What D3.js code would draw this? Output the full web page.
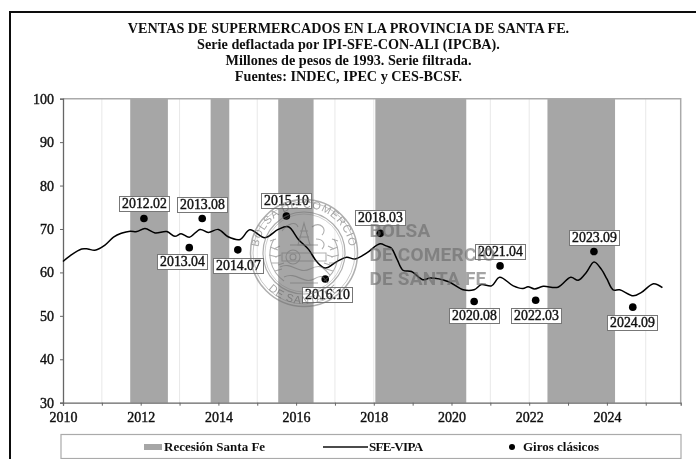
<!DOCTYPE html>
<html><head><meta charset="utf-8">
<script src="https://cdnjs.cloudflare.com/ajax/libs/d3/7.8.5/d3.min.js"></script>
<style>html,body{margin:0;padding:0;background:#fff}svg{display:block}
text{font-family:"Liberation Serif",serif}</style></head><body>
<svg id="c" width="696" height="459"></svg>
<script>
const titleLines = ["VENTAS DE SUPERMERCADOS EN LA PROVINCIA DE SANTA FE.",
  "Serie deflactada por IPI-SFE-CON-ALI (IPCBA).",
  "Millones de pesos de 1993. Serie filtrada.",
  "Fuentes: INDEC, IPEC y CES-BCSF."];
const recessionStart = [2011.73, 2013.80, 2015.54, 2018.04, 2022.47];
const recessionEnd   = [2012.70, 2014.28, 2016.45, 2020.38, 2024.21];
const lineYears = [2010,2010.18,2010.48,2010.64,2010.82,2011.08,2011.3,2011.5,2011.73,2011.9,2012.11,2012.37,2012.67,2012.88,2013.04,2013.25,2013.53,2013.74,2014,2014.25,2014.56,2014.81,2015.2,2015.54,2015.8,2016.06,2016.32,2016.53,2016.75,2017.05,2017.3,2017.52,2017.82,2018.16,2018.32,2018.45,2018.6,2018.75,2018.97,2019.27,2019.45,2019.91,2020.3,2020.58,2020.77,2021.03,2021.24,2021.59,2021.84,2021.97,2022.14,2022.36,2022.74,2023.07,2023.26,2023.47,2023.67,2023.86,2024,2024.16,2024.33,2024.68,2024.89,2025.2,2025.43];
const lineValues = [62.5,63.8,65.4,65.4,65.1,66.3,68.1,69,69.5,69.4,70.1,69.1,69.4,68.3,68.9,68.1,69.9,69.2,69.9,68.2,67.6,69.8,68,69.9,70.5,67.6,65.3,62.5,61,62.5,63.5,63.1,64.5,66.6,66.1,65.6,63,60.5,60.2,58.3,58.7,57.9,56,56,57.2,56.9,58.9,56.9,56.3,56.7,56.2,56.8,56.6,58.9,58.2,60,62.4,60.7,58.5,56,56,54.6,55.4,57.4,56.5];
const giroLabels = ["2012.02","2013.04","2013.08","2014.07","2015.10","2016.10","2018.03","2020.08","2021.04","2022.03","2023.09","2024.09"];
const giroValues = [72.4,65.7,72.4,65.2,73,58.5,69,53.3,61.5,53.6,64.8,52];
const yTicks = [30,40,50,60,70,80,90,100];
const legendNames = ["Recesión Santa Fe","SFE-VIPA","Giros clásicos"];
const watermarkLines = ["BOLSA","DE COMERCIO","DE SANTA FE"];

// label box top-left corners (layout only)
const labelBoxes = {"2012.02":[119,196],"2013.04":[157,254],"2013.08":[177,197],"2014.07":[213,258],"2015.10":[261,193],"2016.10":[302,287],"2018.03":[355,210],"2020.08":[449,308],"2021.04":[475,244],"2022.03":[511,308],"2023.09":[569,230],"2024.09":[607,315]};

const root = d3.select("#c");
root.append("defs").append("filter").attr("id","soft").attr("x",0).attr("y",0).attr("width",1).attr("height",1)
  .append("feGaussianBlur").attr("stdDeviation",0.4);
const svg = root.append("g").attr("filter","url(#soft)");
svg.append("rect").attr("width",696).attr("height",459).attr("fill","#fff");
const W = 696, H = 459;
const m = {l:63, r:680.7, t:98.7, b:402.7};
const x = d3.scaleLinear().domain([2010, 2025.9]).range([m.l, m.r]);
const y = d3.scaleLinear().domain([30, 100]).range([m.b, m.t]);
const SERIF = '"Liberation Serif",serif';
const TXT = "#111";

// frame
svg.append("path").attr("d",`M10,${H}V12H${W}`).attr("fill","none").attr("stroke","#111").attr("stroke-width",2);

// title
svg.append("g").selectAll("text").data(titleLines).join("text")
  .attr("x",348.5).attr("y",(d,i)=>33+i*16.1).attr("text-anchor","middle")
  .attr("font-size",14.2).attr("font-weight","bold").attr("fill",TXT).text(d=>d);

// plot: recession bands
svg.append("g").selectAll("rect").data(recessionStart).join("rect")
  .attr("x",d=>x(d)).attr("width",(d,i)=>x(recessionEnd[i])-x(d))
  .attr("y",m.t).attr("height",m.b-m.t).attr("fill","#a6a6a6");

// grid at years
const years = d3.range(2010,2026);
svg.append("g").selectAll("line").data(years.slice(1)).join("line")
  .attr("x1",d=>x(d)).attr("x2",d=>x(d)).attr("y1",m.t).attr("y2",m.b)
  .attr("stroke","#e8e8e8").attr("stroke-width",1)
  .attr("display",d=>recessionStart.some((s,i)=>d>s&&d<recessionEnd[i])?"none":null);

// plot frame top/right
svg.append("path").attr("d",`M${m.l},${m.t}H${m.r}V${m.b}`).attr("fill","none").attr("stroke","#aaa").attr("stroke-width",1.5);

// axes
const xAxis = d3.axisBottom(x).tickValues(years).tickSize(3).tickPadding(6)
  .tickFormat(d=>d%2===0?String(d):"");
const gx = svg.append("g").attr("transform",`translate(0,${m.b})`).call(xAxis);
const yAxis = d3.axisLeft(y).tickValues(yTicks).tickSize(3).tickPadding(6).tickFormat(d3.format("d"));
const gy = svg.append("g").attr("transform",`translate(${m.l},0)`).call(yAxis);
[gx,gy].forEach(g=>{
  g.selectAll(".domain").attr("stroke","#666").attr("stroke-width",1.3);
  g.selectAll(".tick line").attr("stroke","#666").attr("stroke-width",1);
  g.selectAll("text").attr("font-family",SERIF).attr("font-size",14).attr("fill",TXT)
    .attr("stroke",TXT).attr("stroke-width",0.4);
});

// series line
const line = d3.line().x(d=>x(d[0])).y(d=>y(d[1])).curve(d3.curveCatmullRom.alpha(0.5));
svg.append("path").datum(lineYears.map((d,i)=>[d,lineValues[i]]))
  .attr("d",line).attr("fill","none").attr("stroke","#000").attr("stroke-width",1.5);

// points
const giroYear = s => { const [a,b]=s.split("."); return +a+(+b-1)/12; };
svg.append("g").selectAll("circle").data(giroLabels).join("circle")
  .attr("cx",d=>x(giroYear(d))).attr("cy",(d,i)=>y(giroValues[i])).attr("r",3.8).attr("fill","#000");

// data labels
const lg = svg.append("g").selectAll("g").data(giroLabels).join("g")
  .attr("transform",d=>`translate(${labelBoxes[d][0]},${labelBoxes[d][1]})`);
lg.append("rect").attr("x",0.5).attr("y",0.5).attr("width",50).attr("height",15)
  .attr("fill","#fff").attr("stroke","#777").attr("stroke-width",1);
lg.append("text").attr("x",25.5).attr("y",12).attr("text-anchor","middle")
  .attr("font-size",13.8).attr("fill",TXT).attr("stroke",TXT).attr("stroke-width",0.4).text(d=>d);

// seal watermark
const seal = svg.append("g").attr("transform","translate(304,253)").attr("fill","none").attr("stroke","#6e6e6e").attr("opacity",0.55);
seal.append("circle").attr("r",53.5).attr("stroke-width",1.5);
seal.append("circle").attr("r",51).attr("stroke-width",0.7);
seal.append("circle").attr("r",41).attr("stroke-width",1.2);
seal.append("circle").attr("r",39).attr("stroke-width",0.6);
const defs = root.select("defs");
defs.append("path").attr("id","sealTop").attr("d","M-44,14A46,46 0 1 1 44,14");
defs.append("path").attr("id","sealBottom").attr("d","M-38,34A51,51 0 0 0 38,34");
seal.append("text").attr("stroke","none").attr("fill","#5a5a5a").attr("font-size",11)
  .attr("style",'font-family:"Liberation Sans",sans-serif;letter-spacing:.8px')
  .append("textPath").attr("href","#sealTop").attr("startOffset","50%").attr("text-anchor","middle").text("BOLSA DE COMERCIO");
seal.append("text").attr("stroke","none").attr("fill","#5a5a5a").attr("font-size",11)
  .attr("style",'font-family:"Liberation Sans",sans-serif;letter-spacing:.8px')
  .append("textPath").attr("href","#sealBottom").attr("startOffset","50%").attr("text-anchor","middle").text("DE SANTA FE");
// seal emblem
const emblem = ["M-6,-8L0,-30L6,-8Z","M-14,-8H14","M-30,-14C-38,0 -34,18 -20,28","M30,-14C38,0 34,18 20,28",
 "M-34,-6l8,3M-35,2l8,2M-33,10l8,0M-29,18l7,-2M34,-6l-8,3M35,2l-8,2M33,10l-8,0M29,18l-7,-2",
 "M-34,-12l6,-2M-30,-4l6,-3M-29,4l6,-2M-26,12l6,-2M34,-12l-6,-2M30,-4l-6,-3M29,4l-6,-2M26,12l-6,-2",
 "M-22,0H22V8H-22Z","M-24,14C-12,8 -6,22 6,16S20,16 26,22","M-20,24C-8,18 0,32 10,26S20,26 24,30","M-18,4a7,7 0 1 0 14,0a7,7 0 1 0 -14,0",
 "M-14,4a3,3 0 1 0 6,0a3,3 0 1 0 -6,0","M8,-26C16,-32 24,-24 18,-18","M-4,-22H4M-5,-16H5M-22,-22C-16,-30 -8,-32 -6,-26",
 "M12,-14C20,-14 22,-8 18,-4M-14,30H14"];
seal.append("g").selectAll("path").data(emblem).join("path").attr("d",d=>d).attr("stroke-width",1.1);

// text watermark
svg.append("g").attr("opacity",0.6).selectAll("text").data(watermarkLines).join("text")
  .attr("x",369.5).attr("y",(d,i)=>[237,261,284.5][i])
  .attr("style",'font-family:Roboto,sans-serif').attr("font-size",19).attr("font-weight",700).attr("letter-spacing",0.2)
  .attr("fill","#6a6a6a").text(d=>d);

// legend
const lgY = 447;
svg.append("rect").attr("x",61).attr("y",434.5).attr("width",620).attr("height",24)
  .attr("fill","#fff").attr("stroke","#aaa").attr("stroke-width",1.2);
svg.append("rect").attr("x",144).attr("y",444).attr("width",18).attr("height",6).attr("fill","#a6a6a6");
svg.append("line").attr("x1",323).attr("x2",368).attr("y1",lgY).attr("y2",lgY).attr("stroke","#111").attr("stroke-width",1.5);
svg.append("circle").attr("cx",512).attr("cy",lgY).attr("r",3).attr("fill","#000");
svg.append("g").selectAll("text").data(legendNames).join("text")
  .attr("x",(d,i)=>[164,369,523][i]).attr("y",451)
  .attr("font-size",13).attr("font-weight","bold").attr("fill",TXT)
  .attr("letter-spacing",(d,i)=>i===1?-0.7:null).text(d=>d);
</script></body></html>
